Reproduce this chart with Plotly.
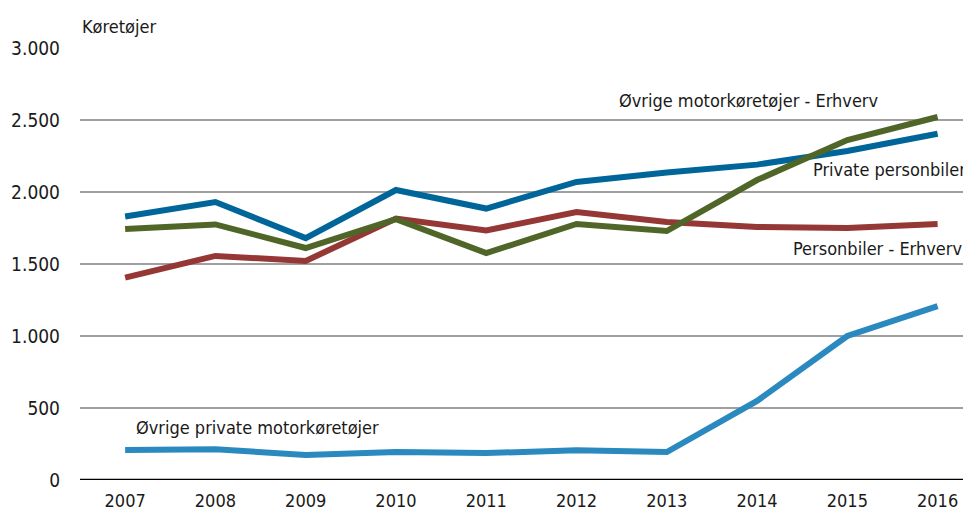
import plotly.graph_objects as go

years = [2007, 2008, 2009, 2010, 2011, 2012, 2013, 2014, 2015, 2016]
private_personbiler = [1830, 1930, 1680, 2014, 1885, 2070, 2135, 2190, 2285, 2405]
personbiler_erhverv = [1405, 1556, 1521, 1815, 1733, 1861, 1792, 1757, 1750, 1778]
ovrige_erhverv = [1743, 1775, 1611, 1812, 1576, 1778, 1729, 2083, 2361, 2521]
ovrige_private = [208, 213, 174, 194, 187, 206, 194, 549, 1000, 1208]

y_ticks = [0, 500, 1000, 1500, 2000, 2500, 3000]

FONT = "DejaVu Sans Condensed, sans-serif"

fig = go.Figure()
series = [
    ("Private personbiler", private_personbiler, "#006699"),
    ("Personbiler - Erhverv", personbiler_erhverv, "#953735"),
    ("Øvrige motorkøretøjer - Erhverv", ovrige_erhverv, "#4f6628"),
    ("Øvrige private motorkøretøjer", ovrige_private, "#2a89bf"),
]
for name, vals, col in series:
    fig.add_trace(go.Scatter(x=years, y=vals, mode="lines", name=name,
                             line=dict(color=col, width=6), showlegend=False))

labels = [
    ("Øvrige motorkøretøjer - Erhverv", 2013.9, 2632),
    ("Private personbiler", 2015.47, 2153),
    ("Personbiler - Erhverv", 2015.33, 1611),
    ("Øvrige private motorkøretøjer", 2008.47, 368),
]
for txt, x, y in labels:
    fig.add_annotation(x=x, y=y, text=txt, showarrow=False,
                       font=dict(size=18, color="#1a1a1a", family=FONT))

fig.add_annotation(x=0, y=1.0, xref="paper", yref="paper", xanchor="left", yanchor="bottom",
                   yshift=9, text="Køretøjer", showarrow=False,
                   font=dict(size=18, color="#1a1a1a", family=FONT))

# page body has an 8px default margin; compensate so the plot area lands as in the reference
fig.update_layout(
    width=963, height=507,
    margin=dict(l=72, r=0, t=40, b=35, autoexpand=False),
    paper_bgcolor="white", plot_bgcolor="white",
    separators=",.",
    font=dict(family=FONT, size=18, color="#1a1a1a"),
    xaxis=dict(range=[2006.5, 2016.37], tickvals=years, ticktext=[str(y) for y in years],
               showgrid=False, zeroline=False, showline=False, ticks="", ticklen=0,
               ticklabelstandoff=8, automargin=False, tickfont=dict(size=18)),
    yaxis=dict(range=[0, 3000], tickvals=y_ticks, tickformat=",", showgrid=True,
               gridcolor="#a0a0a0", gridwidth=2, zeroline=False, showline=False,
               ticks="", ticklabelstandoff=19, automargin=False, tickfont=dict(size=19)),
    shapes=[dict(type="line", xref="paper", yref="y", x0=0, x1=1, y0=0, y1=0,
                 line=dict(color="black", width=2.5), layer="below")],
)

fig.write_html("out.html")
